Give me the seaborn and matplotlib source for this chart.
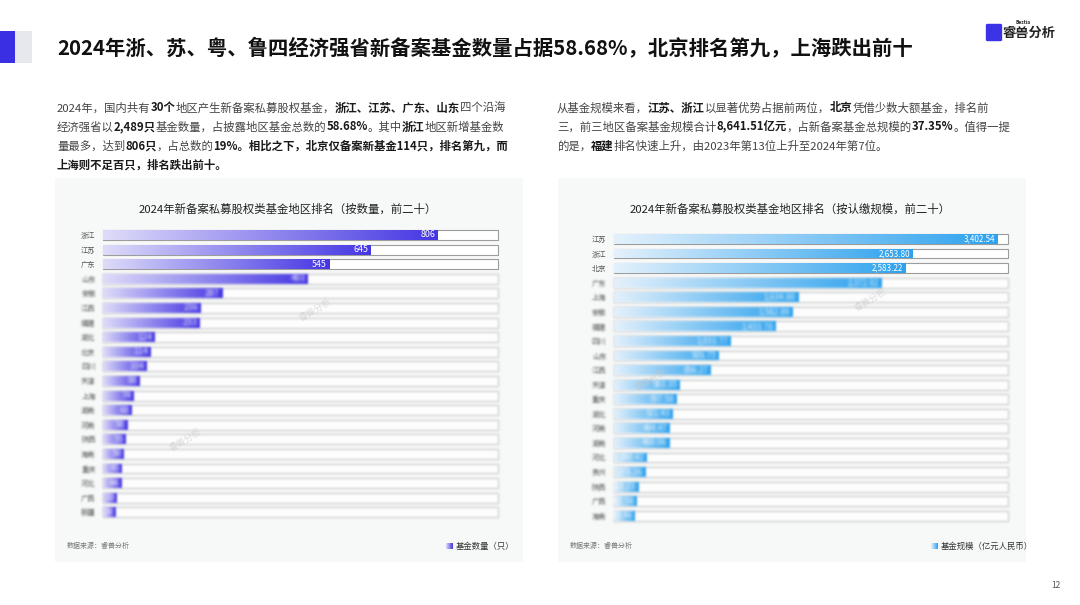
import numpy as np
import pandas as pd
import matplotlib
matplotlib.use("Agg")
import matplotlib.pyplot as plt
import seaborn as sns
from matplotlib.colors import LinearSegmentedColormap
from matplotlib.patches import Rectangle, FancyBboxPatch

# ---------------- data ----------------
count_regions = ['浙江', '江苏', '广东', '山东', '安徽', '江西', '福建', '湖北', '北京', '四川',
                 '天津', '上海', '湖南', '河南', '陕西', '海南', '重庆', '河北', '广西', '新疆']
count_values = [806, 645, 545, 493, 287, 236, 233, 124, 114, 104,
                88, 74, 68, 58, 55, 50, 45, 44, 33, 29]

scale_regions = ['江苏', '浙江', '北京', '广东', '上海', '安徽', '福建', '四川', '山东', '江西',
                 '天津', '重庆', '湖北', '河南', '湖南', '河北', '贵州', '陕西', '广西', '海南']
scale_values = [3402.54, 2653.80, 2583.22, 2372.02, 1634.80, 1582.89, 1433.70, 1033.77, 926.75, 856.27,
                583.35, 557.58, 521.43, 494.47, 489.06, 290.42, 278.26, 213.23, 201.58, 183.46]

main_title = "2024年浙、苏、粤、鲁四经济强省新备案基金数量占据58.68%，北京排名第九，上海跌出前十"
left_title = "2024年新备案私募股权类基金地区排名（按数量，前二十）"
right_title = "2024年新备案私募股权类基金地区排名（按认缴规模，前二十）"
left_legend = "基金数量（只）"
right_legend = "基金规模（亿元人民币）"
source_text = "数据来源：睿兽分析"

left_para = [
    [("2024年，国内共有", 0), ("30个", 1), ("地区产生新备案私募股权基金，", 0), ("浙江、江苏、广东、山东", 1), ("四个沿海", 0)],
    [("经济强省以", 0), ("2,489只", 1), ("基金数量，占披露地区基金总数的", 0), ("58.68%", 1), ("。其中", 0), ("浙江", 1), ("地区新增基金数", 0)],
    [("量最多，达到", 0), ("806只", 1), ("，占总数的", 0), ("19%。相比之下，北京仅备案新基金114只，排名第九，而", 1)],
    [("上海则不足百只，排名跌出前十。", 1)],
]
right_para = [
    [("从基金规模来看，", 0), ("江苏、浙江", 1), ("以显著优势占据前两位，", 0), ("北京", 1), ("凭借少数大额基金，排名前", 0)],
    [("三，前三地区备案基金规模合计", 0), ("8,641.51亿元", 1), ("，占新备案基金总规模的", 0), ("37.35%", 1), ("。值得一提", 0)],
    [("的是，", 0), ("福建", 1), ("排名快速上升，由2023年第13位上升至2024年第7位。", 0)],
]

# ---------------- style ----------------
sns.set_theme(style="white")
plt.rcParams['font.family'] = ['Noto Sans CJK SC', 'DejaVu Sans']
plt.rcParams['axes.unicode_minus'] = False

W, H = 1080, 605
fig = plt.figure(figsize=(W / 100, H / 100), dpi=100)
fig.patch.set_facecolor('white')


def fx(x):
    return x / W


def fy(y):
    return 1 - y / H


def _blur2d(p, sig):
    pad = int(np.ceil(3 * sig))
    k = np.exp(-0.5 * (np.arange(-pad, pad + 1) / sig) ** 2)
    k /= k.sum()
    out = np.zeros_like(p)
    for i, w in enumerate(k):
        out += w * np.roll(p, i - pad, axis=0)
    out2 = np.zeros_like(out)
    for i, w in enumerate(k):
        out2 += w * np.roll(out, i - pad, axis=1)
    return out2


def gauss_blur(im, dpi):
    sig = 1.1
    pad = int(np.ceil(3 * sig)) + 1
    p = np.pad(im, ((pad, pad), (pad, pad), (0, 0)))
    a = p[..., 3:4]
    pre = np.concatenate([p[..., :3] * a, a], axis=2)   # premultiply
    b = _blur2d(pre, sig)
    ab = b[..., 3:4]
    rgb = np.where(ab > 1e-6, b[..., :3] / np.maximum(ab, 1e-6), 0.0)
    out = np.concatenate([np.clip(rgb, 0, 1), np.clip(ab, 0, 1)], axis=2)
    return out, -pad, -pad


# header decorations
fig.patches.append(Rectangle((fx(0), fy(63)), 15 / W, 32 / H, transform=fig.transFigure,
                             facecolor='#3b2fe3', edgecolor='none'))
fig.patches.append(Rectangle((fx(15), fy(63)), 17 / W, 32 / H, transform=fig.transFigure,
                             facecolor='#e6e8ee', edgecolor='none'))
fig.text(fx(57), fy(48), main_title, fontsize=14.65, fontweight='bold', color='#111111',
         ha='left', va='center')

# logo
fig.patches.append(FancyBboxPatch((fx(988), fy(40)), 12 / W, 15 / H, transform=fig.transFigure,
                                  boxstyle="round,pad=0.002", facecolor='#3d33e6', edgecolor='none'))
fig.text(fx(1003), fy(33), "睿兽分析", fontsize=9.5, color='#222222', ha='left', va='center',
         fontweight='bold')
fig.text(fx(1031), fy(23), "Bestia", fontsize=3.5, color='#222222', ha='right', va='center',
         fontweight='bold')

# panels (behind the chart axes)
for x0, x1 in [(55, 523), (558, 1026)]:
    fig.patches.append(Rectangle((fx(x0), fy(562)), (x1 - x0) / W, (562 - 178) / H,
                                 transform=fig.transFigure, facecolor='#f7f8f8', edgecolor='none',
                                 zorder=-5))

# rich paragraphs
renderer = fig.canvas.get_renderer()


def rich_line(x, y, segs, size=8.2):
    for txt, bold in segs:
        t = fig.text(fx(x), fy(y), txt, fontsize=size,
                     fontweight='bold' if bold else 'normal',
                     color='#1a1a1a' if bold else '#444444', ha='left', va='center')
        bb = t.get_window_extent(renderer=renderer)
        x = bb.x1


for i, segs in enumerate(left_para):
    rich_line(57, 108 + 19 * i, segs)
for i, segs in enumerate(right_para):
    rich_line(557, 108 + 19 * i, segs)


def draw_chart(rect, regions, values, xmax, c0, c1, fmt, label_size, title, title_xy,
               legend_text, legend_x, src_x, n_clear=3):
    x0, x1, ytop, ybot = rect
    ax = fig.add_axes([fx(x0), fy(ybot), (x1 - x0) / W, (ybot - ytop) / H])
    ax.set_facecolor('none')
    df = pd.DataFrame({'region': regions, 'value': values})
    df['track'] = xmax
    # track frames
    sns.barplot(data=df, x='track', y='region', ax=ax, orient='h', width=0.68,
                color='white', edgecolor='#9c9c9c', linewidth=0.8, saturation=1)
    n = len(regions)
    frames = list(ax.patches[:n])
    sns.barplot(data=df, x='value', y='region', ax=ax, orient='h', width=0.68,
                color=c1, linewidth=0, saturation=1)
    bars = list(ax.patches[n:2 * n])
    cmap = LinearSegmentedColormap.from_list('g', [c0, c1])
    grad = np.linspace(0, 1, 256).reshape(1, -1)
    for i, (fr, b) in enumerate(zip(frames, bars)):
        fr.set_clip_on(False)
        bx, by, bw, bh = b.get_x(), b.get_y(), b.get_width(), b.get_height()
        im = ax.imshow(grad, cmap=cmap, aspect='auto', interpolation='bilinear',
                       extent=(bx, bx + bw, by + bh, by), zorder=3)
        im.set_clip_path(b)
        b.set_facecolor('none')
        b.set_edgecolor('none')
        lab = ax.annotate(fmt(values[i]), xy=(values[i], i), xytext=(-1.8, 0),
                          textcoords='offset points', ha='right', va='center',
                          color='white', fontsize=label_size, zorder=5)
        if i >= n_clear:
            fr.set_agg_filter(gauss_blur)
            fr.set_edgecolor('#c8c8c8')
            im.set_agg_filter(gauss_blur)
            lab.set_agg_filter(gauss_blur)
    ax.set_xlim(0, xmax)
    ax.set_ylim(n - 0.5, -0.5)
    ax.set_xlabel('')
    ax.set_ylabel('')
    ax.set_xticks([])
    ax.tick_params(axis='y', length=0, pad=5.5, labelsize=5.2, labelcolor='#555555')
    for i, t in enumerate(ax.get_yticklabels()):
        if i >= n_clear:
            t.set_agg_filter(gauss_blur)
    sns.despine(ax=ax, left=True, bottom=True)
    fig.text(fx(title_xy[0]), fy(title_xy[1]), title, fontsize=8.2, color='#222222',
             ha='center', va='center')
    # legend
    sw = np.linspace(0, 1, 16).reshape(1, -1)
    lax = fig.add_axes([fx(legend_x), fy(549.5), 6.5 / W, 6.5 / H])
    lax.imshow(sw, cmap=LinearSegmentedColormap.from_list('l', [c0, c1]), aspect='auto')
    lax.axis('off')
    fig.text(fx(legend_x + 10), fy(546), legend_text, fontsize=6, color='#333333',
             ha='left', va='center')
    fig.text(fx(src_x), fy(546), source_text, fontsize=5, color='#777777', ha='left', va='center')
    return ax


axL = draw_chart((103.3, 497.7, 227.7, 519.6), count_regions, count_values, 951,
                 '#dedcf9', '#4536e4', lambda v: f"{v:d}", 6.4, left_title, (288, 209),
                 left_legend, 446, 67)
axR = draw_chart((614, 1008.3, 231.7, 523.0), scale_regions, scale_values, 3500,
                 '#e4f1fc', '#2da2ee', lambda v: f"{v:,.2f}", 5.8, right_title, (790, 209),
                 right_legend, 931, 570)

# faint watermarks
for (x, y) in [(315, 310), (185, 440), (870, 300), (650, 380)]:
    fig.text(fx(x), fy(y), "睿兽分析", fontsize=6.5, color='#c8c8c8', alpha=0.6,
             rotation=30, ha='center', va='center')

fig.text(fx(1056), fy(586), "12", fontsize=6, color='#555555', ha='center', va='center')

fig.savefig("out.png", dpi=100, facecolor='white')
